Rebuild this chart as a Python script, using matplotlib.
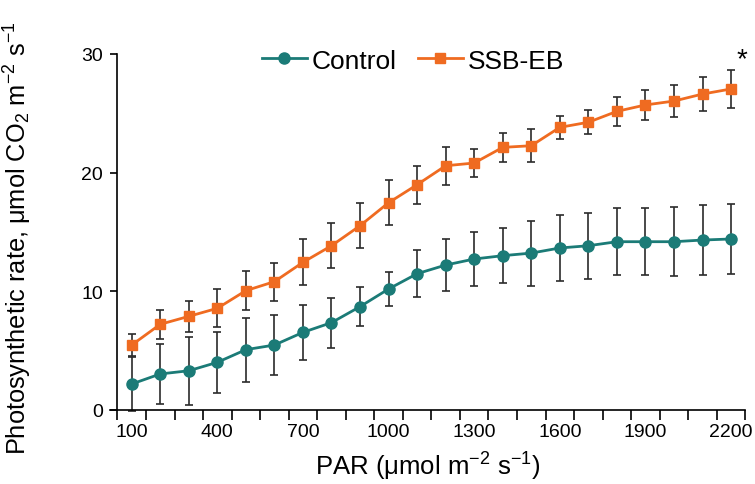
import matplotlib
matplotlib.use("Agg")
import matplotlib.pyplot as plt
import numpy as np

plt.rcParams['font.family'] = ['Liberation Sans', 'DejaVu Sans']
plt.rcParams['mathtext.fontset'] = 'custom'
plt.rcParams['mathtext.rm'] = 'Liberation Sans'
plt.rcParams['mathtext.it'] = 'Liberation Sans:italic'
plt.rcParams['mathtext.bf'] = 'Liberation Sans:bold'

par = [100, 200, 300, 400, 500, 600, 700, 800, 900, 1000, 1100,
       1200, 1300, 1400, 1500, 1600, 1700, 1800, 1900, 2000, 2100, 2200]
control = [2.15, 3.0, 3.27, 3.98, 5.05, 5.44, 6.51, 7.33, 8.68, 10.17, 11.46,
           12.19, 12.7, 12.98, 13.2, 13.63, 13.82, 14.16, 14.16, 14.16, 14.3, 14.39]
control_err = [2.3, 2.55, 2.87, 2.6, 2.7, 2.56, 2.3, 2.1, 1.62, 1.43, 2.0,
               2.18, 2.3, 2.33, 2.74, 2.75, 2.8, 2.84, 2.84, 2.9, 2.95, 2.93]
ssb = [5.44, 7.19, 7.86, 8.54, 10.03, 10.79, 12.42, 13.82, 15.51, 17.45, 18.97,
       20.57, 20.8, 22.12, 22.26, 23.81, 24.24, 25.16, 25.7, 26.03, 26.62, 27.05]
ssb_err = [0.95, 1.2, 1.3, 1.6, 1.65, 1.6, 1.95, 1.9, 1.9, 1.9, 1.6,
           1.6, 1.15, 1.2, 1.4, 1.0, 1.0, 1.2, 1.25, 1.35, 1.4, 1.6]
xtick_vals = [100, 400, 700, 1000, 1300, 1600, 1900, 2200]
ytick_vals = [0, 10, 20, 30]

teal = '#1b7b77'
orange = '#ef6b21'
ecol = '#2b2b2b'

fig = plt.figure(figsize=(7.55, 4.85), dpi=100)
ax = fig.add_axes([0.1457, 0.1536, 0.8415, 0.733])

ax.errorbar(par, control, yerr=control_err, fmt='none', ecolor=ecol,
            elinewidth=1.2, capsize=3, capthick=1.2, zorder=2, clip_on=False)
ax.errorbar(par, ssb, yerr=ssb_err, fmt='none', ecolor=ecol,
            elinewidth=1.2, capsize=3, capthick=1.2, zorder=2, clip_on=False)
ax.plot(par, control, color=teal, lw=2.0, marker='o', ms=8,
        label='Control', zorder=3, clip_on=False)
ax.plot(par, ssb, color=orange, lw=2.0, marker='s', ms=7.5,
        label='SSB-EB', zorder=4, clip_on=False)

ax.set_xlim(24, 2250)
ax.set_ylim(0, 30)

for s in ['top', 'right']:
    ax.spines[s].set_visible(False)
ax.spines['left'].set_position(('data', 50))
ax.spines['left'].set_bounds(0, 30)
ax.spines['left'].set_linewidth(1.2)
ax.spines['bottom'].set_linewidth(1.2)

ax.set_xticks(xtick_vals)
ax.set_xticks(np.arange(50, 2251, 100), minor=True)
ax.tick_params(axis='x', which='major', length=0, pad=10, labelsize=14)
ax.tick_params(axis='x', which='minor', length=7, width=1.2, direction='out')
ax.set_yticks(ytick_vals)
ax.tick_params(axis='y', which='major', length=5, width=1.2, direction='out',
               pad=5.5, labelsize=14)

ax.set_xlabel(r'PAR (μmol m$^{-2}$ s$^{-1}$)', fontsize=18.5, labelpad=7)
ax.set_ylabel(r'Photosynthetic rate, μmol CO$_2$ m$^{-2}$ s$^{-1}$', fontsize=18.3)
ax.yaxis.set_label_coords(-0.12, 0.485)

ax.legend(loc='upper center', bbox_to_anchor=(0.477, 1.045), ncol=2, frameon=False,
          fontsize=19, handlelength=1.7, handletextpad=0.2, columnspacing=0.8,
          borderaxespad=0)

ax.text(2238, 29.6, '*', fontsize=20, ha='center', va='center')

fig.savefig('out.png', dpi=100)
